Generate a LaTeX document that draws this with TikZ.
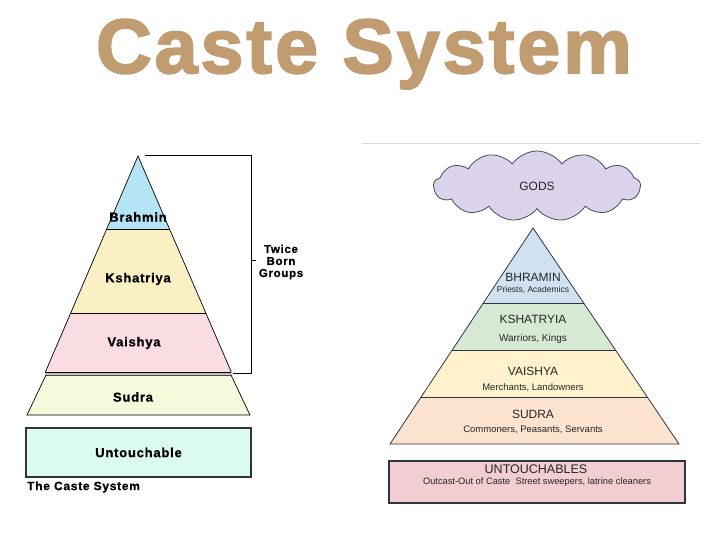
\documentclass[tikz,border=0pt]{standalone}
\usepackage{fontspec}
\setmainfont{Liberation Sans}
\newfontfamily\labfont[LetterSpace=6,FakeBold=0.8]{Liberation Sans Bold}
\newfontfamily\titlefont[LetterSpace=4,FakeBold=2.5]{Liberation Sans Bold}
\usetikzlibrary{shapes.symbols}
\definecolor{titlebrown}{HTML}{C09C70}
\definecolor{lbrahmin}{HTML}{B4E4F6}
\definecolor{lkshat}{HTML}{FBF0C4}
\definecolor{lvaish}{HTML}{FADDE2}
\definecolor{lsudra}{HTML}{F6F9DC}
\definecolor{luntouch}{HTML}{DBFBEF}
\definecolor{rbrahmin}{HTML}{D0E1F2}
\definecolor{rkshat}{HTML}{D7E9D5}
\definecolor{rvaish}{HTML}{FFF2CC}
\definecolor{rsudra}{HTML}{FCE3CF}
\definecolor{runtouch}{HTML}{F2CDD1}
\definecolor{cloudfill}{HTML}{DAD3EB}
\definecolor{rline}{HTML}{2F3540}
\tikzset{
  leftlab/.style={font=\labfont\fontsize{13}{14}\selectfont, text=black},
  lefttier/.style={draw=black, line width=0.7pt},
  righttier/.style={draw=rline, line width=0.8pt},
  rhead/.style={font=\fontsize{12}{13}\selectfont, text=black!85},
  rsub/.style={font=\fontsize{9.5}{10}\selectfont, text=black!85},
}
\begin{document}
\begin{tikzpicture}[x=1pt,y=-1pt]
\useasboundingbox (0,0) rectangle (720,540);
% title
\node[anchor=base, font=\titlefont\fontsize{77}{80}\selectfont, text=titlebrown, inner sep=0pt] (title) at (364,73) {Caste System};

% ---------------- left pyramid ----------------
\coordinate (lapex) at (138,156);
\fill[lbrahmin] (138,156) -- (106.7,229) -- (169.5,229) -- cycle;
\fill[lkshat] (106.7,229) -- (70.7,313) -- (205.8,313) -- (169.5,229) -- cycle;
\fill[lvaish] (70.7,313) -- (45.4,372) -- (231.3,372) -- (205.8,313) -- cycle;
\fill[black!25] (45.4,372) -- (44.6,375) -- (232.6,375) -- (231.3,372) -- cycle;
\fill[lsudra] (46,375) -- (27,415) -- (250,415) -- (231,375) -- cycle;
\draw[lefttier] (106.7,229) -- (169.5,229);
\draw[lefttier] (70.7,313) -- (205.8,313);
\draw[lefttier] (45.4,372) -- (231.3,372);
\draw[lefttier, draw=black!70] (46,375) -- (231,375);
\draw[lefttier] (45.4,372) -- (138,156) -- (231.3,372);
\draw[lefttier] (46,375) -- (27,415) -- (250,415) -- (231,375);
\node[leftlab] (brahmin) at (138,217) {Brahmin};
\node[leftlab] (kshatriya) at (138,279) {Kshatriya};
\node[leftlab] (vaishya) at (134,343) {Vaishya};
\node[leftlab] (sudra) at (133,397) {Sudra};
\node[draw=black!80, line width=1.2pt, fill=luntouch, minimum width=225pt, minimum height=49pt, inner sep=0pt,
      leftlab] (untouch) at (138.5,452.5) {Untouchable};
\node[anchor=west, font=\labfont\fontsize{12}{13}\selectfont, inner sep=0pt] (lcap) at (27,487) {The Caste System};

% bracket
\node[font=\labfont\fontsize{11.5}{12}\selectfont, align=center, inner sep=0pt] (twice) at (281,262) {Twice\\Born\\Groups};
\coordinate (btop) at (145,155);
\coordinate (bcorner1) at (251,155);
\coordinate (bcorner2) at (251,373);
\coordinate (bend) at (233,373);
\coordinate (btick) at (256,260);
\draw[black, line width=0.9pt] (btop) -- (bcorner1) -- (bcorner2) -- (bend);
\draw[black, line width=0.9pt] (251,260) -- (btick);

% ---------------- right diagram ----------------
\draw[black!15, line width=1pt] (362,144) -- (700,144);
\node[cloud, cloud puffs=13, cloud puff arc=110, aspect=3, draw=black!70, line width=0.8pt, fill=cloudfill,
      minimum width=207pt, minimum height=70pt, inner sep=0pt] (gods) at (537,186) {};
\node[rhead] at (gods.center) {GODS};

\coordinate (rapex) at (533,228);
\fill[rbrahmin] (533,228) -- (483.3,303) -- (583.7,303) -- cycle;
\fill[rkshat] (483.3,303) -- (452.2,350) -- (615.5,350) -- (583.7,303) -- cycle;
\fill[rvaish] (452.2,350) -- (421.1,397) -- (647.2,397) -- (615.5,350) -- cycle;
\fill[rsudra] (421.1,397) -- (390,444) -- (679,444) -- (647.2,397) -- cycle;
\draw[righttier] (483.3,303) -- (583.7,303);
\draw[righttier] (452.2,350) -- (615.5,350);
\draw[righttier] (421.1,397) -- (647.2,397);
\draw[righttier] (390,444) -- (533,228) -- (679,444) -- cycle;

\node[rhead] (bhramin) at (533,277) {BHRAMIN};
\node[rsub, font=\fontsize{8.5}{9}\selectfont] (bhramins) at (533,290) {Priests, Academics};
\node[rhead] (kshatryia) at (533,319) {KSHATRYIA};
\node[rsub, font=\fontsize{10}{11}\selectfont] (kshatryias) at (533,339) {Warriors, Kings};
\node[rhead] (vaishyar) at (533,371) {VAISHYA};
\node[rsub] (vaishyas) at (533,388) {Merchants, Landowners};
\node[rhead] (sudrar) at (533,414) {SUDRA};
\node[rsub] (sudras) at (533,430) {Commoners, Peasants, Servants};

\node[draw=rline, line width=1.6pt, fill=runtouch, minimum width=296pt, minimum height=42pt, inner sep=0pt] (runt) at (537,482) {};
\node[rhead, font=\fontsize{12.5}{13}\selectfont] (untouchr) at (536,469) {UNTOUCHABLES};
\node[rsub, font=\fontsize{9.3}{10}\selectfont] (untouchs) at (537,482) {Outcast-Out of Caste\ \ Street sweepers, latrine cleaners};
\end{tikzpicture}
\end{document}
